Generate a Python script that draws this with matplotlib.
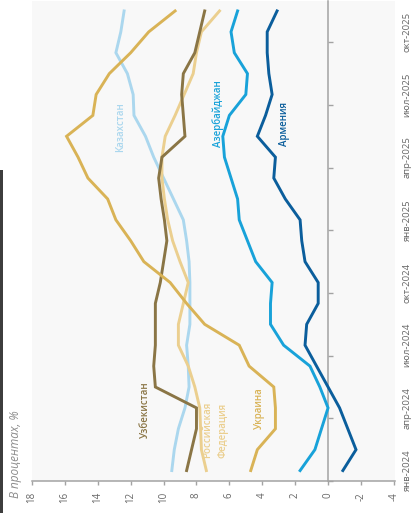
import matplotlib
matplotlib.use('Agg')
import matplotlib.pyplot as plt
from matplotlib.patches import Rectangle

plt.rcParams['font.family'] = ['Open Sans', 'DejaVu Sans']

# ---------------- data ----------------
months = ['янв-2024', 'фев-2024', 'мар-2024', 'апр-2024', 'май-2024', 'июн-2024',
          'июл-2024', 'авг-2024', 'сен-2024', 'окт-2024', 'ноя-2024', 'дек-2024',
          'янв-2025', 'фев-2025', 'мар-2025', 'апр-2025', 'май-2025', 'июн-2025',
          'июл-2025', 'авг-2025', 'сен-2025', 'окт-2025', 'ноя-2025']
date_tick_labels = ['янв-2024', 'апр-2024', 'июл-2024', 'окт-2024',
                    'янв-2025', 'апр-2025', 'июл-2025', 'окт-2025']
value_ticks = [18, 16, 14, 12, 10, 8, 6, 4, 2, 0, -2, -4]
value_tick_labels = ['18', '16', '14', '12', '10', '8', '6', '4', '2', '0', '-2', '-4']

kazakhstan = [9.5, 9.35, 9.1, 8.7, 8.45, 8.5, 8.6, 8.4, 8.4, 8.4, 8.45, 8.6,
              8.8, 9.4, 10.0, 10.6, 11.1, 11.8, 11.85, 12.2, 12.9, 12.6, 12.4]
uzbekistan = [8.6, 8.3, 8.0, 8.0, 10.5, 10.6, 10.5, 10.5, 10.5, 10.2, 10.0, 9.8,
              9.95, 10.15, 10.3, 10.1, 8.7, 8.8, 8.9, 8.8, 8.1, 7.8, 7.5]
russia = [7.4, 7.7, 7.75, 7.8, 8.1, 8.5, 9.1, 9.1, 8.8, 8.5, 9.0, 9.45,
          9.75, 9.95, 10.1, 10.1, 9.9, 9.3, 8.75, 8.2, 8.0, 7.7, 6.6]
ukraine = [4.7, 4.3, 3.2, 3.2, 3.3, 4.8, 5.4, 7.5, 8.6, 9.6, 11.2, 12.0,
           12.9, 13.4, 14.6, 15.2, 15.9, 14.3, 14.1, 13.3, 12.0, 10.9, 9.3]
azerbaijan = [1.7, 0.8, 0.4, 0.0, 0.5, 1.1, 2.7, 3.5, 3.5, 3.4, 4.4, 4.9,
              5.4, 5.5, 5.9, 6.3, 6.4, 6.0, 5.0, 4.9, 5.7, 5.9, 5.5]
armenia = [-0.9, -1.7, -1.2, -0.7, 0.0, 0.7, 1.4, 1.3, 0.6, 0.6, 1.4, 1.6,
           1.7, 2.6, 3.3, 3.2, 4.3, 3.8, 3.4, 3.6, 3.7, 3.7, 3.1]

series = [
    ('Казахстан', kazakhstan, '#abd7ee'),
    ('Российская\nФедерация', russia, '#ebcf8f'),
    ('Узбекистан', uzbekistan, '#8a7545'),
    ('Украина', ukraine, '#d9b356'),
    ('Азербайджан', azerbaijan, '#18a2d9'),
    ('Армения', armenia, '#0b5e9c'),
]
# label placement (value, month index)
label_pos = {
    'Казахстан': (12.6, 16.45),
    'Азербайджан': (6.68, 17.1),
    'Армения': (2.63, 16.6),
    'Узбекистан': (11.08, 2.92),
    'Российская\nФедерация': (6.85, 1.93),
    'Украина': (4.19, 2.97),
}

# ---------------- figure ----------------
W, H = 415, 513
fig = plt.figure(figsize=(W / 100, H / 100), dpi=100)
fig.patch.set_facecolor('white')
ax = fig.add_axes([32 / W, 32 / H, 363 / W, (481 - 0.5) / H])
ax.set_facecolor('#f8f8f8')

# twin axis that only carries the date labels at the right edge
ax2 = ax.twinx()

idx = list(range(len(months)))
for name, vals, col in series:
    ax.plot(vals, idx, color=col, lw=2.1, solid_joinstyle='miter', zorder=3)
    lx, ly = label_pos[name]
    ax.text(lx, ly, name, rotation=90, ha='center', va='center', color=col,
            fontsize=7, fontweight='semibold', linespacing=1.5, zorder=4)

ax.set_xlim(18, -4.07)
ax.set_ylim(-0.5, len(months) - 0.5)

gray = '#a3a3a3'
for s in ['top', 'left']:
    ax.spines[s].set_visible(False)
ax.spines['right'].set_position(('data', 0))
ax.spines['right'].set_color(gray)
ax.spines['right'].set_linewidth(1.1)
ax.spines['bottom'].set_color(gray)
ax.spines['bottom'].set_linewidth(1.1)

ax.yaxis.set_ticks_position('right')
ax.set_yticks([i - 0.5 for i in range(0, len(months), 3)])
ax.set_yticklabels([])
ax.tick_params(axis='y', which='both', left=False, right=True, labelleft=False,
               direction='out', length=3.5, width=1, color=gray)

ax.set_xticks(value_ticks)
ax.set_xticklabels(value_tick_labels, rotation=90, fontsize=7, color='#666666')
ax.tick_params(axis='x', direction='out', length=3, width=1, color=gray, pad=5)

ax2.set_ylim(ax.get_ylim())
ax2.set_yticks([months.index(m) for m in date_tick_labels])
ax2.set_yticklabels(date_tick_labels, rotation=90, fontsize=6.8, color='#666666', va='center')
ax2.tick_params(axis='y', left=False, length=0, pad=5.5)
for s in ax2.spines.values():
    s.set_visible(False)

fig.text(15 / W, 15 / H, 'В процентах, %', rotation=90, ha='center', va='bottom',
         fontsize=8.5, fontstyle='italic', color='#8c8c8c')

fig.patches.append(Rectangle((0, 0), 3 / W, (H - 170) / H, transform=fig.transFigure,
                             facecolor='#3d3d3d', edgecolor='none'))

fig.savefig('out.png', dpi=100, facecolor='white')
